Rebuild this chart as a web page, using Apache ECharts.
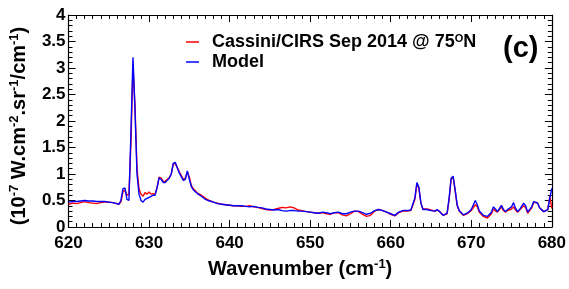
<!DOCTYPE html>
<html>
<head>
<meta charset="utf-8">
<script src="https://cdn.jsdelivr.net/npm/echarts@6/dist/echarts.min.js"></script>
<style>
html,body{margin:0;padding:0;background:#fff;}
#chart{width:569px;height:289px;}
</style>
</head>
<body>
<div id="chart"></div>
<script>
// Wavenumber grid (cm^-1)
const wavenumber = [
 620,620.5,621,621.5,622,622.5,623,623.5,624,624.5,625,625.5,626,626.25,626.5,626.75,627,627.25,627.5,627.75,
 628,628.25,628.5,628.75,629,629.25,629.5,629.75,630,630.25,630.5,630.75,631,631.25,631.5,631.75,632,632.25,632.5,632.75,
 633,633.25,633.5,633.75,634,634.25,634.5,634.75,635,635.25,635.5,636,636.5,637,637.5,638,638.5,639,639.5,640,
 640.5,641,641.5,642,642.5,643,643.5,644,644.5,645,645.5,646,646.5,647,647.5,648,648.5,649,649.5,650,
 650.5,651,651.5,652,652.5,653,653.5,654,654.5,655,655.5,656,656.5,657,657.5,658,658.5,659,659.5,660,
 660.5,661,661.5,662,662.5,663,663.25,663.5,663.75,664,664.5,665,665.5,665.75,666,666.5,667,667.25,667.5,667.75,
 668,668.25,668.5,669,669.5,670,670.5,670.75,671,671.5,672,672.5,672.75,673,673.25,673.75,674,674.25,674.5,675,
 675.25,675.5,675.75,676,676.5,676.75,677,677.5,677.75,678,678.25,678.5,679,679.5,679.75,680
];
// Cassini/CIRS observed radiance (1e-7 W cm-2 sr-1 / cm-1)
const observed = [
 .43,.45,.44,.46,.48,.46,.45,.44,.46,.47,.47,.46,.44,.43,.47,.66,.70,.60,.62,1.6,
 3.05,2.3,1.1,.72,.62,.58,.65,.62,.66,.62,.63,.62,.75,.94,.92,.86,.86,.90,.93,1.00,
 1.18,1.20,1.12,1.04,.97,.90,.92,1.04,.94,.78,.72,.64,.60,.54,.50,.47,.45,.43,.42,.41,
 .40,.40,.39,.39,.40,.38,.37,.35,.33,.32,.33,.35,.37,.36,.38,.36,.32,.31,.29,.28,
 .27,.26,.27,.25,.24,.27,.27,.23,.21,.25,.30,.29,.24,.20,.22,.30,.33,.31,.28,.24,
 .21,.27,.30,.30,.31,.52,.82,.72,.45,.34,.34,.32,.30,.32,.30,.22,.25,.52,.90,.94,
 .68,.40,.30,.22,.25,.31,.42,.38,.28,.20,.17,.25,.34,.30,.28,.38,.31,.28,.31,.34,
 .38,.32,.28,.32,.40,.37,.26,.36,.46,.46,.45,.36,.29,.33,.58,.35
];
// Radiative transfer model
const model = [
 .47,.48,.48,.49,.50,.49,.49,.48,.48,.48,.47,.46,.44,.43,.50,.72,.74,.52,.50,1.8,
 3.2,2.2,1.0,.62,.50,.47,.52,.54,.56,.58,.60,.60,.75,.93,.90,.84,.84,.88,.92,1.00,
 1.20,1.22,1.12,1.02,.95,.88,.90,1.06,.90,.76,.70,.63,.58,.52,.49,.47,.44,.43,.42,.41,
 .40,.40,.40,.39,.38,.39,.37,.36,.34,.33,.32,.33,.31,.30,.31,.31,.30,.30,.29,.28,
 .27,.26,.28,.27,.25,.27,.28,.25,.25,.28,.30,.30,.27,.24,.26,.31,.33,.31,.28,.25,
 .22,.28,.31,.31,.32,.55,.84,.75,.45,.33,.33,.31,.30,.33,.30,.22,.26,.55,.92,.96,
 .70,.42,.31,.23,.26,.33,.50,.42,.30,.22,.20,.28,.38,.34,.29,.41,.33,.29,.33,.38,
 .46,.35,.29,.33,.45,.40,.28,.38,.48,.47,.45,.36,.29,.33,.55,.73
];
const seriesNames = ['Cassini/CIRS Sep 2014 @ 75ON', 'Model'];
const xRange = [620, 680], xStep = 10, xMinorStep = 1;
const yRange = [0, 4], yStep = 0.5, yMinorStep = 0.1;

const FONT = "'Liberation Sans', Arial, Helvetica, sans-serif";
const chart = echarts.init(document.getElementById('chart'), null, {renderer: 'canvas'});
const axisLine = {show: true, onZero: false, lineStyle: {color: '#000', width: 1.2}};
const noLine = {show: false, onZero: false};
const majorTick = {show: true, inside: true, length: 7, lineStyle: {color: '#000', width: 1}};
const minorTick = {show: true, inside: true, length: 4, lineStyle: {color: '#000', width: 1}};
const supRich = {
  b: {fontFamily: FONT, fontWeight: 'bold', fontSize: 20, lineHeight: 21, verticalAlign: 'bottom', color: '#000'},
  sup: {fontFamily: FONT, fontWeight: 'bold', fontSize: 13, lineHeight: 13, padding: [0, 0, 10, 0], verticalAlign: 'top', color: '#000'}
};
const legendRich = {
  b: {fontFamily: FONT, fontWeight: 'bold', fontSize: 18, lineHeight: 18, verticalAlign: 'bottom', color: '#000'},
  sup: {fontFamily: FONT, fontWeight: 'bold', fontSize: 11, lineHeight: 11, padding: [0, 0, 8, 0], verticalAlign: 'top', color: '#000'}
};

function frameAxis(range, step, pos, tick, line) {
  return {
    type: 'value', min: range[0], max: range[1], interval: step, position: pos,
    axisLine: line, axisTick: tick, axisLabel: {show: false},
    splitLine: {show: false}, silent: true
  };
}

const option = {
  animation: false,
  backgroundColor: '#fff',
  grid: {left: 68, right: 13, top: 15, bottom: 62, containLabel: false},
  legend: {
    data: seriesNames,
    orient: 'vertical',
    left: 181, top: 28,
    itemWidth: 13, itemHeight: 1.5, itemGap: 1,
    icon: 'rect',
    selectedMode: false,
    textStyle: {padding: [0, 0, 0, 8], rich: legendRich},
    formatter: function (name) {
      if (name === seriesNames[0]) return '{b|Cassini/CIRS Sep 2014 @ 75}{sup|O}{b|N}';
      return '{b|' + name + '}';
    }
  },
  graphic: [{
    type: 'text', left: 503, top: 34,
    style: {text: '(c)', font: 'bold 29px ' + FONT, fill: '#000'}
  }],
  xAxis: [
    {
      type: 'value', min: xRange[0], max: xRange[1], interval: xStep, position: 'bottom',
      axisLine: axisLine, axisTick: majorTick, splitLine: {show: false},
      axisLabel: {color: '#000', fontFamily: FONT, fontWeight: 'bold', fontSize: 17, margin: 8},
      name: '{b|Wavenumber (cm}{sup|-1}{b|)}',
      nameLocation: 'middle', nameGap: 31,
      nameTextStyle: {rich: supRich, padding: [0, 20, 0, 0]}
    },
    frameAxis(xRange, xStep, 'top', majorTick, axisLine),
    frameAxis(xRange, xMinorStep, 'bottom', minorTick, noLine),
    frameAxis(xRange, xMinorStep, 'top', minorTick, noLine)
  ],
  yAxis: [
    {
      type: 'value', min: yRange[0], max: yRange[1], interval: yStep, position: 'left',
      axisLine: axisLine, axisTick: majorTick, splitLine: {show: false},
      axisLabel: {color: '#000', fontFamily: FONT, fontWeight: 'bold', fontSize: 17, margin: 3},
      name: '{b|(10}{sup|-7}{b| W.cm}{sup|-2}{b|.sr}{sup|-1}{b|/cm}{sup|-1}{b|)}',
      nameLocation: 'middle', nameRotate: 90, nameGap: 33,
      nameTextStyle: {rich: supRich, padding: [0, 10, 0, 0]}
    },
    frameAxis(yRange, yStep, 'right', majorTick, axisLine),
    frameAxis(yRange, yMinorStep, 'left', minorTick, noLine),
    frameAxis(yRange, yMinorStep, 'right', minorTick, noLine)
  ],
  series: [
    {
      name: seriesNames[0], type: 'line', xAxisIndex: 0, yAxisIndex: 0,
      data: wavenumber.map((w, i) => [w, observed[i]]),
      showSymbol: false, symbol: 'none',
      lineStyle: {color: '#ff0000', width: 1.4}, itemStyle: {color: '#ff0000'}
    },
    {
      name: seriesNames[1], type: 'line', xAxisIndex: 0, yAxisIndex: 0,
      data: wavenumber.map((w, i) => [w, model[i]]),
      showSymbol: false, symbol: 'none',
      lineStyle: {color: '#0000ff', width: 1.4}, itemStyle: {color: '#0000ff'}
    }
  ]
};
chart.setOption(option);
</script>
</body>
</html>
